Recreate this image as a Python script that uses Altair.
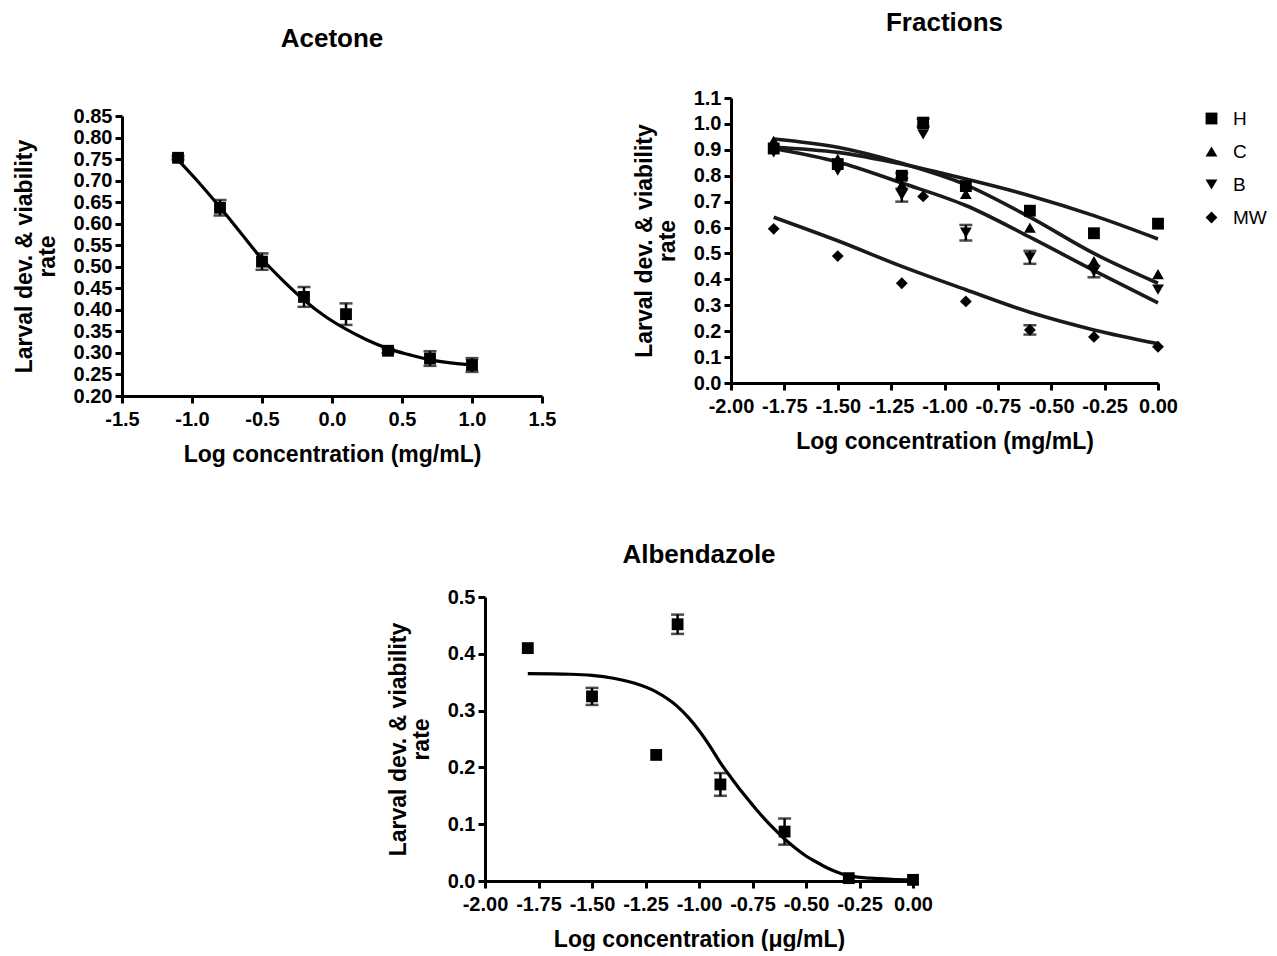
import altair as alt
import pandas as pd

# ---------------- Acetone ----------------
ace_x = [-1.1, -0.8, -0.5, -0.2, 0.1, 0.4, 0.7, 1.0]
ace_y = [0.753, 0.637, 0.512, 0.430, 0.390, 0.305, 0.287, 0.272]
ace_err = [0.004, 0.018, 0.019, 0.023, 0.025, 0.005, 0.017, 0.016]
ace_fit_x = [-1.1, -0.95, -0.8, -0.65, -0.5, -0.35, -0.2, -0.05, 0.1, 0.25, 0.4, 0.55, 0.7, 0.85, 1.0]
ace_fit_y = [0.748, 0.695, 0.638, 0.578, 0.518, 0.468, 0.423, 0.385, 0.355, 0.330, 0.310, 0.296, 0.284, 0.277, 0.272]

# ---------------- Fractions ----------------
frac_x = [-1.8, -1.5, -1.2, -1.1, -0.9, -0.6, -0.3, 0.0]
frac_series = ["H", "C", "B", "MW"]
H_y = [0.905, 0.845, 0.800, 1.005, 0.760, 0.665, 0.578, 0.615]
C_y = [0.935, 0.865, 0.765, 1.000, 0.730, 0.600, 0.470, 0.420]
B_y = [0.890, 0.820, 0.725, 0.960, 0.580, 0.485, 0.430, 0.360]
MW_y = [0.595, 0.490, 0.385, 0.720, 0.315, 0.205, 0.178, 0.140]
H_err = [0, 0, 0.010, 0.015, 0, 0, 0, 0]
C_err = [0, 0, 0, 0, 0, 0, 0, 0]
B_err = [0, 0, 0.025, 0, 0.030, 0.025, 0.022, 0]
MW_err = [0, 0, 0, 0, 0, 0.018, 0, 0]
frac_fit_x = [-1.8, -1.5, -1.2, -0.9, -0.6, -0.3, 0.0]
H_fit = [0.910, 0.890, 0.845, 0.787, 0.723, 0.646, 0.556]
C_fit = [0.942, 0.910, 0.848, 0.765, 0.640, 0.500, 0.385]
B_fit = [0.905, 0.853, 0.772, 0.685, 0.563, 0.434, 0.309]
MW_fit = [0.640, 0.549, 0.450, 0.360, 0.273, 0.205, 0.152]

# ---------------- Albendazole ----------------
alb_x = [-1.8, -1.5, -1.2, -1.1, -0.9, -0.6, -0.3, 0.0]
alb_y = [0.410, 0.325, 0.222, 0.452, 0.170, 0.087, 0.005, 0.002]
alb_err = [0.0, 0.015, 0.0, 0.017, 0.020, 0.023, 0.0, 0.0]
alb_fit_x = [-1.8, -1.6, -1.5, -1.4, -1.3, -1.2, -1.1, -1.05, -1.0, -0.95, -0.9, -0.85, -0.8,
             -0.75, -0.7, -0.65, -0.6, -0.55, -0.5, -0.45, -0.4, -0.35, -0.3, -0.2, -0.1, 0.0]
alb_fit_y = [0.365, 0.364, 0.362, 0.357, 0.348, 0.333, 0.307, 0.288, 0.265, 0.238, 0.208, 0.182, 0.157,
             0.134, 0.112, 0.092, 0.074, 0.058, 0.044, 0.033, 0.023, 0.015, 0.009, 0.005, 0.003, 0.002]

YTITLE = ["Larval dev. & viability", "rate"]
FONT = "Liberation Sans"
MINUS_FIX = "replace(format(datum.value, '{f}'), '\u2212', '-')"


def xenc(field, dom, vals, fmt, title):
    sc = alt.Scale(domain=dom, nice=False, zero=False)
    return alt.X(field + ":Q", scale=sc,
                 axis=alt.Axis(values=vals, labelExpr=MINUS_FIX.format(f=fmt), title=title))


def yenc(field, dom, vals, fmt, rng=None):
    if rng is not None:
        sc = alt.Scale(domain=dom, nice=False, zero=False, range=rng)
    else:
        sc = alt.Scale(domain=dom, nice=False, zero=False)
    return alt.Y(field + ":Q", scale=sc,
                 axis=alt.Axis(values=vals, labelExpr=MINUS_FIX.format(f=fmt), title=YTITLE))


def panel(pts, fit, title, xargs, yargs, w, h, title_offset, shape_enc=None, fit_group=False):
    X = lambda f: xenc(f, *xargs)
    Y = lambda f: yenc(f, *yargs)
    base = alt.Chart(pts)
    bars = base.transform_filter("datum.err > 0").transform_calculate(
        lo="datum.y - datum.err", hi="datum.y + datum.err")
    rule = bars.mark_rule(color="black", strokeWidth=2.5).encode(x=X("x"), y=Y("lo"), y2="hi:Q")
    caps = bars.transform_fold(["lo", "hi"], as_=["k", "v"]).mark_tick(
        orient="horizontal", color="black", size=13, thickness=2.5).encode(x=X("x"), y=Y("v"))
    if fit_group:
        line = alt.Chart(fit).mark_line(color="#1a1a1a", strokeWidth=3.6, interpolate="monotone").encode(
            x=X("x"), y=Y("y"), detail="s:N")
    else:
        line = alt.Chart(fit).mark_line(color="black", strokeWidth=3.2, interpolate="monotone").encode(
            x=X("x"), y=Y("y"))
    if shape_enc is not None:
        pt = base.mark_point(filled=True, color="black", opacity=1, size=140).encode(
            x=X("x"), y=Y("y"), shape=shape_enc)
    else:
        pt = base.mark_point(filled=True, color="black", opacity=1, size=140, shape="square").encode(
            x=X("x"), y=Y("y"))
    return alt.layer(line, rule, caps, pt).properties(
        width=w, height=h,
        title=alt.TitleParams(text=title, fontSize=26, fontWeight="bold", font=FONT,
                              frame="group", anchor="middle", offset=title_offset, color="black"))


# Acetone
ace_pts = pd.DataFrame({"x": ace_x, "y": ace_y, "err": ace_err})
ace_fit = pd.DataFrame({"x": ace_fit_x, "y": ace_fit_y})
acetone = panel(
    ace_pts, ace_fit, "Acetone",
    ([-1.5, 1.5], [-1.5, -1.0, -0.5, 0.0, 0.5, 1.0, 1.5], ".1f", "Log concentration (mg/mL)"),
    ([0.20, 0.85], [0.20, 0.25, 0.30, 0.35, 0.40, 0.45, 0.50, 0.55, 0.60, 0.65, 0.70, 0.75, 0.80, 0.85],
     ".2f", [298, 18]),
    420, 298, 46)

# Fractions
rows = []
for s, ys, es in zip(frac_series, [H_y, C_y, B_y, MW_y], [H_err, C_err, B_err, MW_err]):
    for xv, yv, ev in zip(frac_x, ys, es):
        rows.append({"s": s, "x": xv, "y": yv, "err": ev})
frac_pts = pd.DataFrame(rows)
frows = []
for s, fs in zip(frac_series, [H_fit, C_fit, B_fit, MW_fit]):
    for xv, yv in zip(frac_fit_x, fs):
        frows.append({"s": s, "x": xv, "y": yv})
frac_fit = pd.DataFrame(frows)
shape_enc = alt.Shape("s:N", scale=alt.Scale(domain=frac_series,
                                             range=["square", "triangle-up", "triangle-down", "diamond"]),
                      legend=alt.Legend(title=None, orient="none", legendX=1080, legendY=11,
                                        labelFontSize=19, labelFont=FONT, labelFontWeight="normal",
                                        symbolSize=140, symbolFillColor="black", symbolStrokeColor="black",
                                        rowPadding=13, labelOffset=12, padding=0, labelColor="black"))
x_frac = ([-2.0, 0.0], [-2.0, -1.75, -1.5, -1.25, -1.0, -0.75, -0.5, -0.25, 0.0], ".2f",
          "Log concentration (mg/mL)")
fractions = panel(
    frac_pts, frac_fit, "Fractions", x_frac,
    ([0.0, 1.1], [0.0, 0.1, 0.2, 0.3, 0.4, 0.5, 0.6, 0.7, 0.8, 0.9, 1.0, 1.1], ".1f"),
    427, 285, 52, shape_enc=shape_enc, fit_group=True)

# Albendazole
alb_pts = pd.DataFrame({"x": alb_x, "y": alb_y, "err": alb_err})
alb_fit = pd.DataFrame({"x": alb_fit_x, "y": alb_fit_y})
x_alb = ([-2.0, 0.0], [-2.0, -1.75, -1.5, -1.25, -1.0, -0.75, -0.5, -0.25, 0.0], ".2f",
         "Log concentration (\u03bcg/mL)")
albendazole = panel(
    alb_pts, alb_fit, "Albendazole", x_alb,
    ([0.0, 0.5], [0.0, 0.1, 0.2, 0.3, 0.4, 0.5], ".1f"),
    428, 284, 19)

spacer = alt.Chart(pd.DataFrame({"a": [0]})).mark_point(opacity=0).encode(
    x=alt.X("a:Q", axis=None), y=alt.Y("a:Q", axis=None)).properties(width=343, height=284)

top = alt.hconcat(acetone, fractions, spacing=189, bounds="flush")
bottom = alt.hconcat(spacer, albendazole, spacing=20, bounds="flush")
chart = alt.vconcat(top, bottom, spacing=499, bounds="flush").properties(
    padding={"left": 5, "top": 2, "right": 0, "bottom": 0}
).configure_view(stroke=None).configure_axis(
    domainWidth=3, domainColor="black", tickWidth=3, tickColor="black", tickSize=7,
    labelFont=FONT, labelFontSize=20, labelFontWeight="bold", labelColor="black",
    labelOverlap=False, labelFlush=False,
    titleFont=FONT, titleFontSize=23, titleFontWeight="bold", titleColor="black",
    grid=False, titleLineHeight=23
).configure_axisY(titlePadding=14, labelPadding=3).configure_axisX(titlePadding=14, labelPadding=6)

chart.save("out.html", embed_options={"renderer": "svg", "actions": False})
